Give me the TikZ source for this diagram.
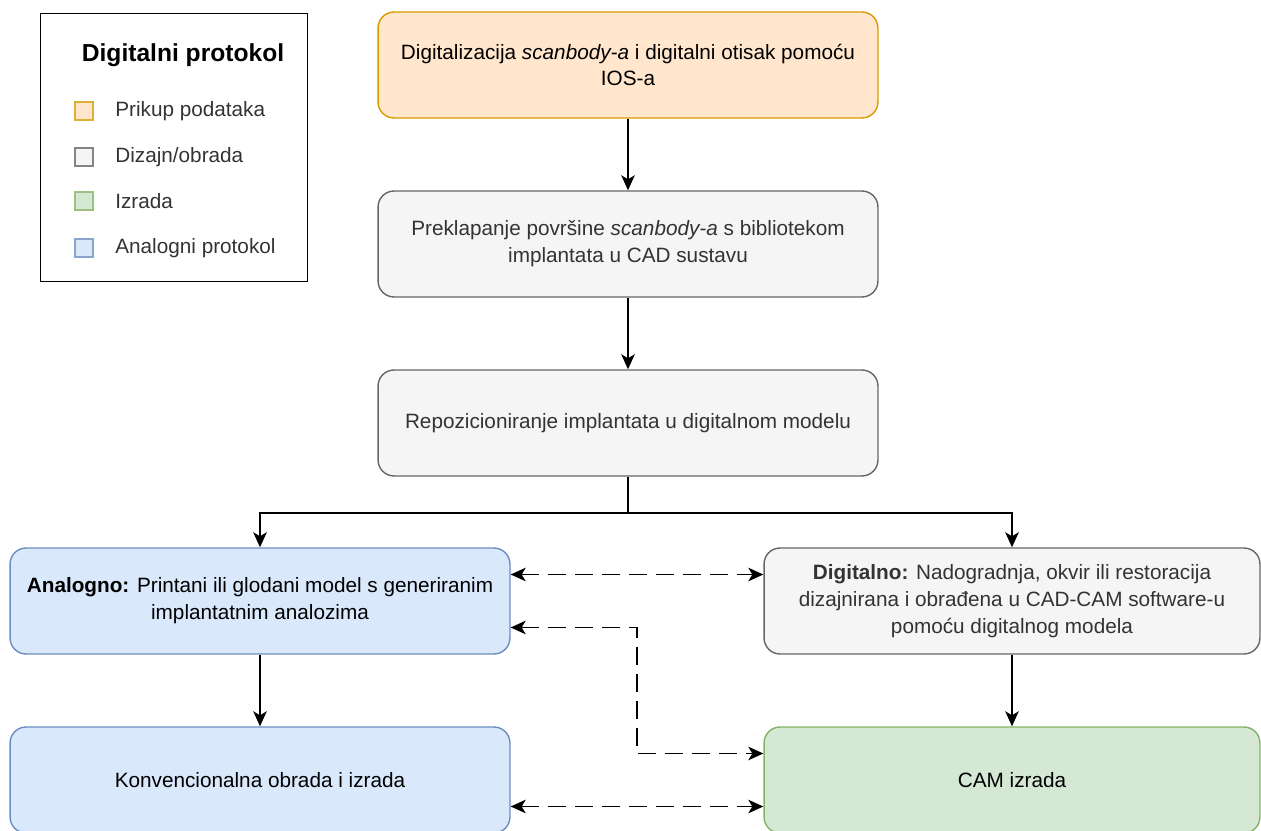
\documentclass[tikz,border=0pt]{standalone}
\usepackage{fontspec}
\setmainfont{Liberation Sans}
\usetikzlibrary{arrows.meta}
\definecolor{orangefill}{HTML}{FFE6CC}
\definecolor{orangeline}{HTML}{D79B00}
\definecolor{grayfill}{HTML}{F5F5F5}
\definecolor{grayline}{HTML}{666666}
\definecolor{grayfont}{HTML}{333333}
\definecolor{bluefill}{HTML}{DAE8FC}
\definecolor{blueline}{HTML}{6C8EBF}
\definecolor{greenfill}{HTML}{D5E8D4}
\definecolor{greenline}{HTML}{82B366}

\begin{document}
\begin{tikzpicture}[x=0.02cm, y=-0.02cm,
		>={Stealth[length=0.3cm, width=0.27cm, inset=0.08cm]},
		every node/.style={font=\fontsize{11.8}{15.3}\selectfont},
		stage/.style={draw, rounded corners=0.32cm, line width=0.8pt, align=center,
			minimum width=10cm, minimum height=2.12cm, inner sep=0pt},
		acquire/.style={stage, fill=orangefill, draw=orangeline},
		design/.style={stage, fill=grayfill, draw=grayline, text=grayfont},
		analog/.style={stage, fill=bluefill, draw=blueline},
		produce/.style={stage, fill=greenfill, draw=greenline},
		flow/.style={->, line width=1.1pt},
		link/.style={<->, line width=1.1pt, dash pattern=on 0.36cm off 0.18cm},
		swatch/.style={draw, line width=0.6pt, minimum size=0.36cm, inner sep=0pt}]
		\useasboundingbox (0,0) rectangle (1261,831);
		% legend
		\node[draw, line width=0.8pt, minimum width=5.34cm, minimum height=5.36cm, anchor=north west] (legend) at (40,13) {};
		\node[font=\fontsize{14}{16}\selectfont\bfseries] (legtitle) at (183,55) {Digitalni protokol};
		\foreach \n/\y/\f/\l/\t in {acq/111/orangefill/orangeline/{Prikup podataka},
				dsg/157/grayfill/grayline/{Dizajn/obrada},
				mfg/201/greenfill/greenline/{Izrada},
				ana/248/bluefill/blueline/{Analogni protokol}} {
			\node[swatch, fill=\f, draw=\l!80] (sw\n) at (84,\y) {};
			\node[anchor=west, text=grayfont, inner sep=0pt] (lab\n) at (115,\y) {\t};
		}
		% digital chain
		\node[acquire] (scan) at (628,65) {Digitalizacija \textit{scanbody-a} i digitalni otisak pomoću\\IOS-a};
		\node[design] (match) at (628,244) {Preklapanje površine \textit{scanbody-a} s bibliotekom\\implantata u CAD sustavu};
		\node[design] (repos) at (628,423) {Repozicioniranje implantata u digitalnom modelu};
		% two branches
		\node[analog] (model) at (260,601) {\textbf{Analogno:} Printani ili glodani model s generiranim\\implantatnim analozima};
		\node[design, minimum width=9.92cm] (cad) at (1012,601) {\textbf{Digitalno:} Nadogradnja, okvir ili restoracija\\dizajnirana i obrađena u CAD-CAM software-u\\pomoću digitalnog modela};
		\node[analog] (conv) at (260,780) {Konvencionalna obrada i izrada};
		\node[produce, minimum width=9.92cm] (cam) at (1012,780) {CAM izrada};
		% solid arrows
		\draw[flow] (scan) -- (match);
		\draw[flow] (match) -- (repos);
		\path (repos.south) ++(0,36) coordinate (split);
		\draw[line width=1.1pt] (repos.south) -- (split);
		\draw[flow] (split) -| (model.north);
		\draw[flow] (split) -| (cad.north);
		\draw[flow] (model) -- (conv);
		\draw[flow] (cad) -- (cam);
		% dashed links
		\draw[link] ([yshift=0.53cm]model.east) -- ([yshift=0.53cm]cad.west);
		\draw[link] ([yshift=-0.53cm]model.east) -- ++(126,0) |- ([yshift=0.53cm]cam.west);
		\draw[link] ([yshift=-0.53cm]conv.east) -- ([yshift=-0.53cm]cam.west);
	\end{tikzpicture}
\end{document}
